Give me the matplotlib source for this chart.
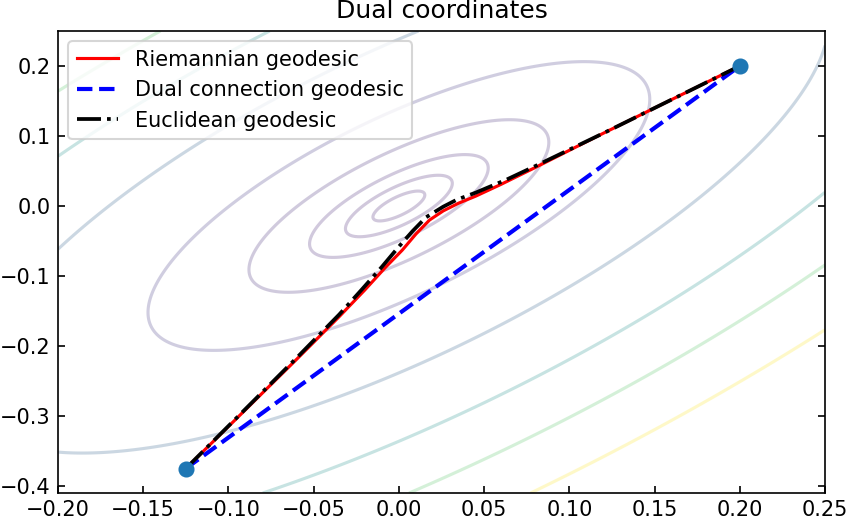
import matplotlib
matplotlib.use("Agg")
import matplotlib.pyplot as plt
import numpy as np

# end points of the geodesics
start = (-0.125, -0.375)
end = (0.2, 0.2)

# Riemannian geodesic
riem_x = [-0.125, -0.09, -0.06, -0.035, -0.02, -0.008, 0.002, 0.010, 0.018,
          0.026, 0.035, 0.045, 0.06, 0.08, 0.12, 0.16, 0.2]
riem_y = [-0.375, -0.291, -0.219, -0.158, -0.120, -0.088, -0.063, -0.040, -0.020,
          -0.007, 0.004, 0.014, 0.031, 0.055, 0.104, 0.152, 0.2]

# Euclidean geodesic
eucl_x = [-0.125, -0.09, -0.06, -0.035, -0.022, -0.010, 0.000, 0.008, 0.016,
          0.026, 0.034, 0.045, 0.063, 0.08, 0.12, 0.16, 0.2]
eucl_y = [-0.375, -0.290, -0.217, -0.155, -0.120, -0.087, -0.058, -0.036, -0.016,
          -0.001, 0.009, 0.019, 0.0375, 0.057, 0.104, 0.152, 0.2]

# dual connection geodesic is a straight line
dual_x = [start[0], end[0]]
dual_y = [start[1], end[1]]

# quadratic form of the background potential and its contour levels
qa, qb, qc = 283.3, -149.1, 144.3
levels = [0.03, 0.127, 0.355, 1.0, 2.8, 8.2, 16.3, 25.0, 35.4]

fig = plt.figure(figsize=(849 / 150, 521 / 150), dpi=150)
ax = fig.add_axes([58 / 849, 1 - 493 / 521, (825 - 58) / 849, (493 - 31) / 521])

gx = np.linspace(-0.2, 0.25, 500)
gy = np.linspace(-0.41, 0.25, 500)
X, Y = np.meshgrid(gx, gy)
Z = qa * X**2 + 2 * qb * X * Y + qc * Y**2
ax.contour(X, Y, Z, levels=levels, cmap="viridis", vmin=-4, vmax=35.4,
           alpha=0.25, linewidths=1.5)

ax.plot(riem_x, riem_y, color="red", lw=1.5, label="Riemannian geodesic")
ax.plot(dual_x, dual_y, color="blue", ls="--", lw=2, label="Dual connection geodesic")
ax.plot(eucl_x, eucl_y, color="black", ls="-.", lw=1.8, label="Euclidean geodesic")
ax.scatter([start[0], end[0]], [start[1], end[1]], s=45, color="C0", zorder=5)

ax.set_xlim(-0.2, 0.25)
ax.set_ylim(-0.41, 0.25)
ax.set_xticks(np.arange(-0.2, 0.26, 0.05))
ax.set_yticks(np.arange(-0.4, 0.21, 0.1))
ax.tick_params(direction="in", right=True)
ax.set_title("Dual coordinates")
ax.legend(loc="upper left")

fig.savefig("out.png", dpi=150)
